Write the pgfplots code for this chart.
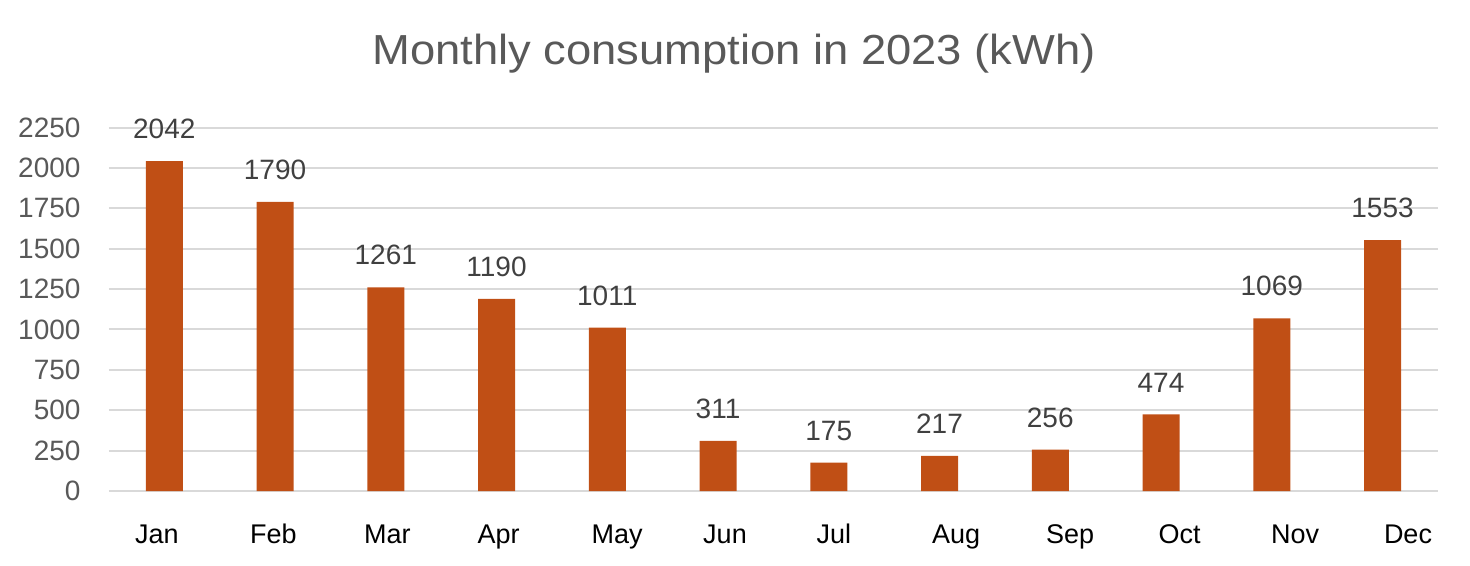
\documentclass[border=0pt]{standalone}
\usepackage{fontspec}
\setmainfont{Liberation Sans}
\usepackage{pgfplots}
\pgfplotsset{compat=1.18}
\definecolor{barc}{HTML}{C04F15}
\definecolor{gridc}{HTML}{D9D9D9}
\definecolor{titlec}{HTML}{595959}
\definecolor{labc}{HTML}{404040}
\begin{document}
\begin{tikzpicture}
\useasboundingbox (0,0) rectangle (735bp,283bp);
\node[anchor=base, text=titlec, inner sep=0pt] at (367bp,250.5bp)
  {\scalebox{1.08}[1]{\fontsize{21bp}{25bp}\selectfont Monthly consumption in 2023 (kWh)}};
\begin{axis}[
  at={(54.45bp,37.5bp)}, anchor=south west,
  scale only axis,
  width=664.5bp, height=181.7bp,
  xmin=-0.5, xmax=11.5,
  ymin=0, ymax=2250,
  ytick={0,250,...,2250},
  xtick={-0.066,0.986,2.015,3.019,4.088,5.063,6.047,7.15,8.18,9.168,10.21,11.23},
  xticklabels={Jan,Feb,Mar,Apr,May,Jun,Jul,Aug,Sep,Oct,Nov,Dec},
  axis line style={draw=none},
  major tick length=0pt,
  ymajorgrids,
  grid style={gridc, line width=1bp},
  /pgf/number format/assume math mode=true,
  /pgf/number format/1000 sep={},
  yticklabel style={font=\fontsize{14bp}{16bp}\selectfont, text=titlec, anchor=east, inner sep=0pt, xshift=-14bp},
  xticklabel style={font=\fontsize{13.5bp}{16bp}\selectfont, text=black, anchor=base, inner sep=0pt, yshift=-26bp},
  ybar, bar width=18.5bp,
  nodes near coords,
  nodes near coords style={font=\fontsize{14bp}{16bp}\selectfont, text=labc, anchor=base, inner sep=0pt, yshift=11.2bp,
    /pgf/number format/1000 sep={}},
  clip=false,
]
\addplot[fill=barc, draw=none] coordinates {
  (0,2042) (1,1790) (2,1261) (3,1190) (4,1011) (5,311)
  (6,175) (7,217) (8,256) (9,474) (10,1069) (11,1553)
};
\end{axis}
\end{tikzpicture}
\end{document}
